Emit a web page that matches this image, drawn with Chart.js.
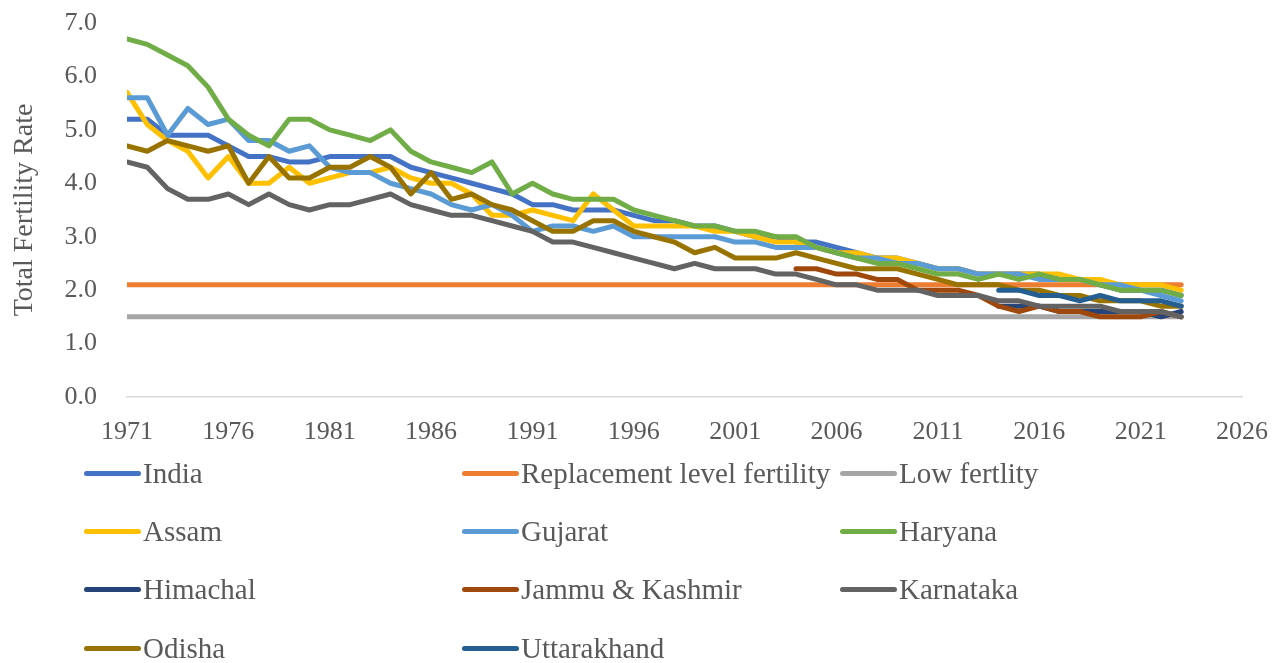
<!DOCTYPE html>
<html>
<head>
<meta charset="utf-8">
<script src="https://cdn.jsdelivr.net/npm/chart.js@4.4.0/dist/chart.umd.min.js"></script>
<style>
  body { margin: 0; background: #fff; }
  #wrap { position: relative; width: 1288px; height: 663px; }
  #tfr_chart { position: absolute; left: 0; top: 0; }
  #tfr_legend {
    position: absolute; left: 84px; top: 444px;
    display: grid; grid-template-columns: 378px 378px 378px; grid-auto-rows: 58.3px;
    font-family: 'Liberation Serif', 'Times New Roman', serif; font-size: 29px; color: #595959;
  }
  .lg-item { display: flex; align-items: center; white-space: nowrap; }
  .lg-line { width: 57px; height: 5px; border-radius: 3px; margin-right: 2px; }
</style>
</head>
<body>
<div id="wrap">
  <canvas id="tfr_chart" width="1288" height="450"></canvas>
  <div id="tfr_legend"></div>
</div>
<script>
const years = [1971,1972,1973,1974,1975,1976,1977,1978,1979,1980,1981,1982,1983,1984,1985,1986,1987,1988,1989,1990,
  1991,1992,1993,1994,1995,1996,1997,1998,1999,2000,2001,2002,2003,2004,2005,2006,2007,2008,2009,2010,
  2011,2012,2013,2014,2015,2016,2017,2018,2019,2020,2021,2022,2023];
const yearsJK = [2004,2005,2006,2007,2008,2009,2010,2011,2012,2013,2014,2015,2016,2017,2018,2019,2020,2021,2022,2023];
const yearsLate = [2014,2015,2016,2017,2018,2019,2020,2021,2022,2023];

const india = [5.2,5.2,4.9,4.9,4.9,4.7,4.5,4.5,4.4,4.4,4.5,4.5,4.5,4.5,4.3,4.2,4.1,4.0,3.9,3.8,
  3.6,3.6,3.5,3.5,3.5,3.4,3.3,3.3,3.2,3.2,3.1,3.0,3.0,2.9,2.9,2.8,2.7,2.6,2.6,2.5,
  2.4,2.4,2.3,2.3,2.3,2.3,2.2,2.2,2.1,2.0,2.0,2.0,1.9];
const replacementLevel = [2.1,2.1,2.1,2.1,2.1,2.1,2.1,2.1,2.1,2.1,2.1,2.1,2.1,2.1,2.1,2.1,2.1,2.1,2.1,2.1,
  2.1,2.1,2.1,2.1,2.1,2.1,2.1,2.1,2.1,2.1,2.1,2.1,2.1,2.1,2.1,2.1,2.1,2.1,2.1,2.1,
  2.1,2.1,2.1,2.1,2.1,2.1,2.1,2.1,2.1,2.1,2.1,2.1,2.1];
const lowFertility = [1.5,1.5,1.5,1.5,1.5,1.5,1.5,1.5,1.5,1.5,1.5,1.5,1.5,1.5,1.5,1.5,1.5,1.5,1.5,1.5,
  1.5,1.5,1.5,1.5,1.5,1.5,1.5,1.5,1.5,1.5,1.5,1.5,1.5,1.5,1.5,1.5,1.5,1.5,1.5,1.5,
  1.5,1.5,1.5,1.5,1.5,1.5,1.5,1.5,1.5,1.5,1.5,1.5,1.5];
const assam = [5.7,5.1,4.8,4.6,4.1,4.5,4.0,4.0,4.3,4.0,4.1,4.2,4.2,4.3,4.1,4.0,4.0,3.8,3.4,3.4,
  3.5,3.4,3.3,3.8,3.5,3.2,3.2,3.2,3.2,3.1,3.1,3.0,2.9,2.9,2.8,2.7,2.7,2.6,2.6,2.5,
  2.4,2.4,2.3,2.3,2.3,2.3,2.3,2.2,2.2,2.1,2.1,2.1,2.0];
const gujarat = [5.6,5.6,4.9,5.4,5.1,5.2,4.8,4.8,4.6,4.7,4.3,4.2,4.2,4.0,3.9,3.8,3.6,3.5,3.6,3.4,
  3.1,3.2,3.2,3.1,3.2,3.0,3.0,3.0,3.0,3.0,2.9,2.9,2.8,2.8,2.8,2.7,2.6,2.6,2.5,2.5,
  2.4,2.4,2.3,2.3,2.3,2.2,2.2,2.2,2.1,2.1,2.0,1.9,1.8];
const haryana = [6.7,6.6,6.4,6.2,5.8,5.2,4.9,4.7,5.2,5.2,5.0,4.9,4.8,5.0,4.6,4.4,4.3,4.2,4.4,3.8,
  4.0,3.8,3.7,3.7,3.7,3.5,3.4,3.3,3.2,3.2,3.1,3.1,3.0,3.0,2.8,2.7,2.6,2.5,2.5,2.4,
  2.3,2.3,2.2,2.3,2.2,2.3,2.2,2.2,2.1,2.0,2.0,2.0,1.9];
const himachal = [1.7,1.7,1.7,1.6,1.6,1.6,1.6,1.6,1.5,1.6];
const jammuKashmir = [2.4,2.4,2.3,2.3,2.2,2.2,2.0,2.0,2.0,1.9,1.7,1.6,1.7,1.6,1.6,1.5,1.5,1.5,1.6,1.5];
const karnataka = [4.4,4.3,3.9,3.7,3.7,3.8,3.6,3.8,3.6,3.5,3.6,3.6,3.7,3.8,3.6,3.5,3.4,3.4,3.3,3.2,
  3.1,2.9,2.9,2.8,2.7,2.6,2.5,2.4,2.5,2.4,2.4,2.4,2.3,2.3,2.2,2.1,2.1,2.0,2.0,2.0,
  1.9,1.9,1.9,1.8,1.8,1.7,1.7,1.7,1.7,1.6,1.6,1.6,1.5];
const odisha = [4.7,4.6,4.8,4.7,4.6,4.7,4.0,4.5,4.1,4.1,4.3,4.3,4.5,4.3,3.8,4.2,3.7,3.8,3.6,3.5,
  3.3,3.1,3.1,3.3,3.3,3.1,3.0,2.9,2.7,2.8,2.6,2.6,2.6,2.7,2.6,2.5,2.4,2.4,2.4,2.3,
  2.2,2.1,2.1,2.1,2.0,2.0,1.9,1.9,1.8,1.8,1.8,1.7,1.7];
const uttarakhand = [2.0,2.0,1.9,1.9,1.8,1.9,1.8,1.8,1.8,1.7];

const xTicks = [1971,1976,1981,1986,1991,1996,2001,2006,2011,2016,2021,2026];

const toPoints = (yrs, vals) => yrs.map((yr, i) => ({x: yr, y: vals[i]}));

const seriesList = [
  ['India', years, india, '#4472C4'],
  ['Replacement level fertility', years, replacementLevel, '#ED7D31'],
  ['Low fertlity', years, lowFertility, '#A5A5A5'],
  ['Assam', years, assam, '#FFC000'],
  ['Gujarat', years, gujarat, '#5B9BD5'],
  ['Haryana', years, haryana, '#70AD47'],
  ['Himachal', yearsLate, himachal, '#264478'],
  ['Jammu & Kashmir', yearsJK, jammuKashmir, '#9E480E'],
  ['Karnataka', years, karnataka, '#636363'],
  ['Odisha', years, odisha, '#997300'],
  ['Uttarakhand', yearsLate, uttarakhand, '#255E91']
];

// later series on top, like excel does
const tfrDatasets = seriesList.map((s, i) => ({
  label: s[0],
  data: toPoints(s[1], s[2]),
  borderColor: s[3],
  backgroundColor: s[3],
  borderWidth: 5,
  borderCapStyle: 'round',
  borderJoinStyle: 'round',
  pointRadius: 0,
  tension: 0,
  order: seriesList.length - i
}));

const txtColor = '#595959';
const serif = "'Liberation Serif', 'Times New Roman', serif";

const tfrChart = new Chart(document.getElementById('tfr_chart'), {
  type: 'line',
  data: { datasets: tfrDatasets },
  options: {
    responsive: false,
    animation: false,
    layout: { padding: { top: 23, right: 46, bottom: 0, left: 0 } },
    plugins: { legend: { display: false }, tooltip: { enabled: false } },
    scales: {
      x: {
        type: 'linear',
        min: 1971,
        max: 2026,
        afterBuildTicks: (axis) => { axis.ticks = xTicks.map(v => ({value: v})); },
        afterFit: (axis) => { axis.height = 53; },
        grid: { display: false, drawTicks: false },
        border: { display: true, color: '#D9D9D9', width: 1.5 },
        ticks: {
          color: txtColor, padding: 20, maxRotation: 0, autoSkip: false,
          font: { family: serif, size: 26 },
          callback: (v) => String(v)
        }
      },
      y: {
        min: 0,
        max: 7,
        afterFit: (axis) => { axis.width = 127; },
        // tick length (hidden) gives the gap, padding would also push the top down
        grid: { display: false, drawTicks: true, tickLength: 28 },
        border: { display: false },
        ticks: {
          stepSize: 1, color: txtColor, padding: 2,
          font: { family: serif, size: 26 },
          callback: (v) => Number(v).toFixed(1)
        },
        title: {
          display: true, text: 'Total Fertility Rate', color: txtColor,
          padding: { top: 8, bottom: 4 },
          font: { family: serif, size: 28, weight: 'normal' }
        }
      }
    }
  }
});

// html legend in 3 columns, built from the chart datasets
const legendBox = document.getElementById('tfr_legend');
tfrChart.data.datasets.forEach(ds => {
  const item = document.createElement('div');
  item.classList.add('lg-item');
  const line = document.createElement('span');
  line.classList.add('lg-line');
  line.style.background = ds.borderColor;
  const txt = document.createElement('span');
  txt.innerText = ds.label;
  item.appendChild(line);
  item.appendChild(txt);
  legendBox.appendChild(item);
});
</script>
</body>
</html>
